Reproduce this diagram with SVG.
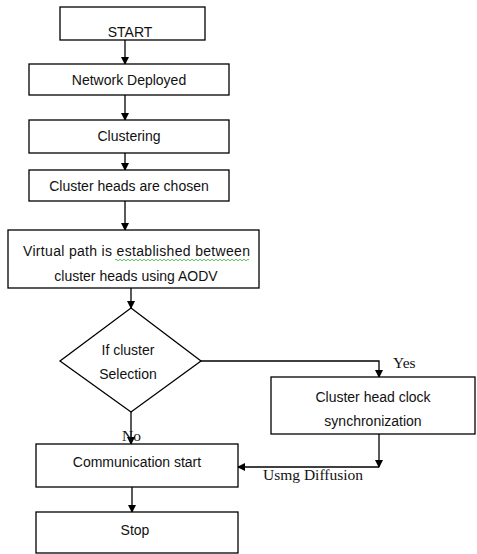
<svg xmlns="http://www.w3.org/2000/svg" width="477" height="554" viewBox="0 0 477 554">
<defs>
<marker id="ah" markerWidth="8" markerHeight="8" refX="7" refY="4" orient="auto" markerUnits="userSpaceOnUse">
<path d="M0,0 L8,4 L0,8 z" fill="#000"/>
</marker>
<style>
.box{fill:#fff;stroke:#000;stroke-width:1.3}
.t{font-family:"Liberation Sans",Arial,sans-serif;font-size:14px;fill:#111;text-anchor:middle}
.s{font-family:"Liberation Serif","Times New Roman",serif;font-size:15.5px;fill:#111}
.c{fill:none;stroke:#000;stroke-width:1.3}
</style>
</defs>
<rect width="477" height="554" fill="#fff"/>
<g id="connectors">
<line class="c" x1="125" y1="40" x2="125" y2="64" marker-end="url(#ah)"/>
<line class="c" x1="125" y1="95" x2="125" y2="120" marker-end="url(#ah)"/>
<line class="c" x1="125" y1="153" x2="125" y2="170" marker-end="url(#ah)"/>
<line class="c" x1="125" y1="201" x2="125" y2="230" marker-end="url(#ah)"/>
<line class="c" x1="131" y1="288" x2="131" y2="308" marker-end="url(#ah)"/>
<polyline class="c" points="201,361 379,361 379,377" marker-end="url(#ah)"/>
<line class="c" x1="131" y1="412" x2="131" y2="444" marker-end="url(#ah)"/>
<line class="c" x1="379" y1="434" x2="379" y2="467" marker-end="url(#ah)"/>
<line class="c" x1="379" y1="467" x2="238" y2="467" marker-end="url(#ah)"/>
<line class="c" x1="132" y1="487" x2="132" y2="512" marker-end="url(#ah)"/>
<text class="s" x="393" y="368">Yes</text>
<text class="s" x="122" y="441">No</text>
<text class="s" x="263" y="480">Usmg Diffusion</text>
</g>
<g id="start"><rect class="box" x="60" y="7" width="145" height="33"/><text class="t" x="130" y="37">START</text></g>
<g id="deployed"><rect class="box" x="29" y="64" width="200" height="31"/><text class="t" x="129" y="85">Network Deployed</text></g>
<g id="clustering"><rect class="box" x="29" y="120" width="200" height="33"/><text class="t" x="129" y="141">Clustering</text></g>
<g id="heads"><rect class="box" x="29" y="170" width="200" height="31"/><text class="t" x="129" y="191">Cluster heads are chosen</text></g>
<g id="virtual"><rect class="box" x="8" y="230" width="251" height="58"/>
<text class="t" x="23" y="256" style="text-anchor:start" textLength="227" lengthAdjust="spacing">Virtual path is established  between</text>
<text class="t" x="136" y="281">cluster heads using AODV</text>
<path d="M115,260 q1,-1.5 2,0 t2,0 t2,0 t2,0 t2,0 t2,0 t2,0 t2,0 t2,0 t2,0 t2,0 t2,0 t2,0 t2,0 t2,0 t2,0 t2,0 t2,0 t2,0 t2,0 t2,0 t2,0 t2,0 t2,0 t2,0 t2,0 t2,0 t2,0 t2,0 t2,0 t2,0 t2,0 t2,0 t2,0 t2,0 t2,0 t2,0 t2,0 t2,0 t2,0 t2,0 t2,0 t2,0 t2,0 t2,0 t2,0 t2,0 t2,0 t2,0 t2,0 t2,0 t2,0 t2,0 t2,0 t2,0 t2,0 t2,0 t2,0 t2,0 t2,0 t2,0 t2,0 t2,0 t2,0 t2,0 t2,0 t2,0" fill="none" stroke="#3a3" stroke-width="0.8"/>
</g>
<g id="decision"><polygon class="box" points="131,308 201,361 131,412 60,361"/>
<text class="t" x="128" y="355">If cluster</text>
<text class="t" x="128" y="379">Selection</text></g>
<g id="sync"><rect class="box" x="271" y="377" width="204" height="57"/>
<text class="t" x="373" y="402">Cluster head clock</text>
<text class="t" x="373" y="426">synchronization</text></g>
<g id="comm"><rect class="box" x="36" y="444" width="202" height="43"/><text class="t" x="137" y="467">Communication start</text></g>
<g id="stop"><rect class="box" x="36" y="512" width="202" height="41"/><text class="t" x="135" y="535">Stop</text></g>
</svg>
